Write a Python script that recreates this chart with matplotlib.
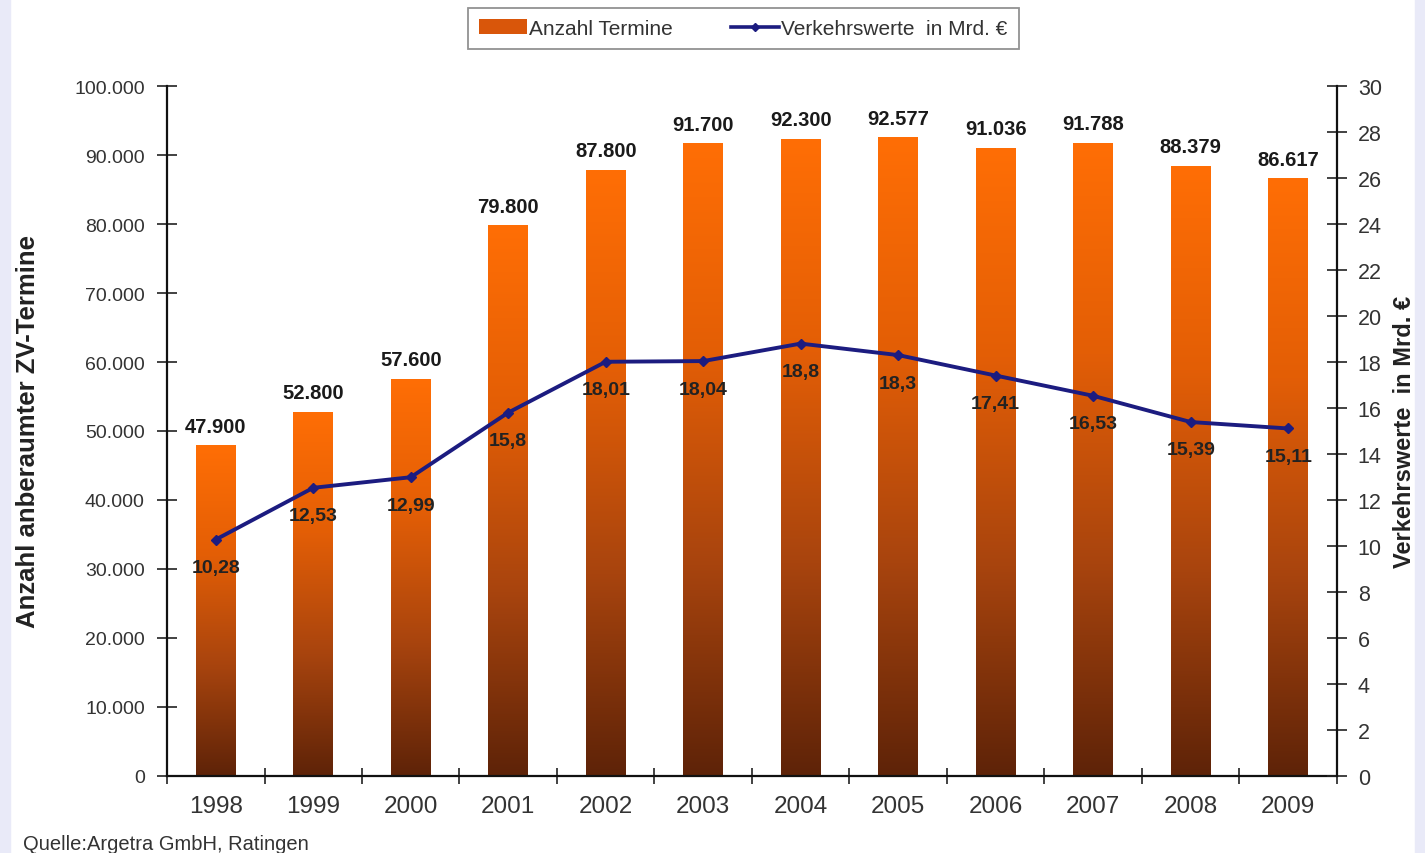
import matplotlib
matplotlib.use("Agg")
import matplotlib.pyplot as plt
import numpy as np
from matplotlib.colors import LinearSegmentedColormap
from matplotlib.ticker import FuncFormatter, MultipleLocator, FixedLocator
from matplotlib.patches import Patch, Rectangle
from matplotlib.lines import Line2D

years = ["1998", "1999", "2000", "2001", "2002", "2003", "2004", "2005", "2006", "2007", "2008", "2009"]
termine = [47900, 52800, 57600, 79800, 87800, 91700, 92300, 92577, 91036, 91788, 88379, 86617]
verkehrswerte = [10.28, 12.53, 12.99, 15.8, 18.01, 18.04, 18.8, 18.3, 17.41, 16.53, 15.39, 15.11]

def de_int(v):
    return f"{int(round(v)):,}".replace(",", ".")

def de_dec(v):
    s = f"{v:.2f}".rstrip("0").rstrip(".")
    return s.replace(".", ",")

plt.rcParams['font.family'] = ['Liberation Sans', 'DejaVu Sans']

fig = plt.figure(figsize=(14.25, 8.54), dpi=100)
# faint bluish edge strips as in the reference
fig.patches.append(Rectangle((0, 0), 0.007, 1, transform=fig.transFigure, color='#E9EAF8', zorder=0))
fig.patches.append(Rectangle((0.993, 0), 0.007, 1, transform=fig.transFigure, color='#E9EAF8', zorder=0))

ax = fig.add_axes([0.1172, 0.0902, 0.8210, 0.8079])
ax2 = ax.twinx()

x = np.arange(len(years))
bars = ax.bar(x, termine, width=0.41, color='none', edgecolor='none', zorder=2)

cmap = LinearSegmentedColormap.from_list("og", ["#5E2308", "#A8440E", "#E35E06", "#FF6E05"])
grad = np.linspace(0, 1, 256).reshape(-1, 1)
for b in bars:
    x0, y0 = b.get_x(), b.get_y()
    w, h = b.get_width(), b.get_height()
    im = ax.imshow(grad, cmap=cmap, aspect='auto', origin='lower',
                   extent=[x0, x0 + w, y0, y0 + h], zorder=2)
    im.set_clip_path(b)

ax.set_xlim(-0.5, len(years) - 0.5)
ax.set_ylim(0, 100000)
ax2.set_ylim(0, 30)

for xi, v in zip(x, termine):
    ax.annotate(de_int(v), (xi, v), xytext=(0, 7), textcoords='offset points',
                ha='center', va='bottom', fontsize=14.5, fontweight='bold', color='#1a1a1a')

ax2.plot(x, verkehrswerte, color='#1C1C80', lw=2.8, marker='D', markersize=5.5,
         markerfacecolor='#1C1C80', markeredgecolor='#1C1C80', zorder=5)
for xi, v in zip(x, verkehrswerte):
    ax2.annotate(de_dec(v), (xi, v), xytext=(0, -14), textcoords='offset points',
                 ha='center', va='top', fontsize=14, fontweight='bold', color='#222222')

ax.yaxis.set_major_locator(MultipleLocator(10000))
ax.yaxis.set_major_formatter(FuncFormatter(lambda v, p: de_int(v)))
ax2.yaxis.set_major_locator(MultipleLocator(2))
ax2.yaxis.set_major_formatter(FuncFormatter(lambda v, p: f"{int(v)}"))

ax.set_xticks(x)
ax.set_xticklabels(years)
ax.xaxis.set_minor_locator(FixedLocator(np.arange(-0.5, len(years), 1.0)))
ax.tick_params(axis='x', which='major', length=0, pad=14, labelsize=17.5, labelcolor='#333333')
ax.tick_params(axis='x', which='minor', direction='inout', length=12, width=1.2, color='#222222')
ax.tick_params(axis='y', direction='inout', length=14, width=1.2, pad=9,
               labelsize=14, labelcolor='#333333', color='#222222')
ax2.tick_params(axis='y', direction='inout', length=14, width=1.2, pad=8,
                labelsize=15.5, labelcolor='#333333', color='#222222')

for a in (ax, ax2):
    a.spines['top'].set_visible(False)
    for s in ('left', 'right', 'bottom'):
        a.spines[s].set_linewidth(1.6)
        a.spines[s].set_color('#111111')
ax.spines['right'].set_visible(False)
ax2.spines['left'].set_visible(False)
ax2.spines['bottom'].set_visible(False)

ax.set_ylabel("Anzahl anberaumter ZV-Termine", fontsize=18.5, fontweight='bold', color='#222222')
ax2.set_ylabel("Verkehrswerte  in Mrd. €", fontsize=17, fontweight='bold', color='#222222',
               rotation=90)
ax.yaxis.label.set_va('center')
ax2.yaxis.label.set_va('center')
ax.yaxis.set_label_coords(-0.119, 0.5)
ax2.yaxis.set_label_coords(1.058, 0.5)

ax.set_zorder(1)
ax2.set_zorder(2)
ax2.patch.set_visible(False)

handles = [Patch(facecolor='#D9560A', edgecolor='none'),
           Line2D([0], [0], color='#1C1C80', lw=2.6, marker='D', markersize=4)]
leg = fig.legend(handles, ["Anzahl Termine", "Verkehrswerte  in Mrd. €"],
                 loc='center', bbox_to_anchor=(0.5215, 0.9655), ncol=2, frameon=True,
                 fancybox=False, edgecolor='#777777', fontsize=15, handlelength=2.3,
                 handletextpad=0.1, columnspacing=2.8, borderpad=0.55)
leg.get_frame().set_linewidth(1.3)
for t in leg.get_texts():
    t.set_color('#333333')

fig.text(0.016, 0.0, "Quelle:Argetra GmbH, Ratingen", fontsize=14.5, color='#333333', ha='left', va='bottom')

fig.savefig("out.png", dpi=100)
